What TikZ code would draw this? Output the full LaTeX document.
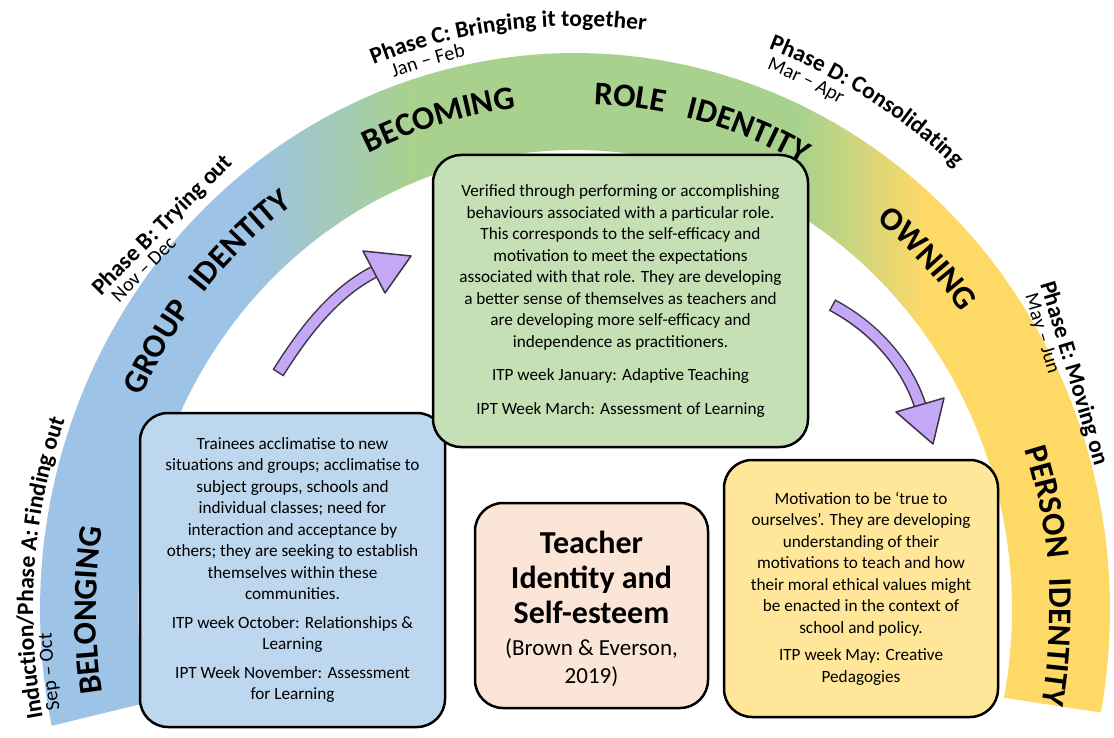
\documentclass[tikz,border=0pt]{standalone}
\usepackage{fontspec}
\setmainfont{Carlito}
\usetikzlibrary{decorations.text}
\definecolor{bandblue}{HTML}{9DC3E6}
\definecolor{bandgreen}{HTML}{A9D18E}
\definecolor{bandyellow}{HTML}{FFD966}
\definecolor{boxblue}{HTML}{BDD7EE}
\definecolor{boxgreen}{HTML}{C5E0B4}
\definecolor{boxyellow}{HTML}{FFE699}
\definecolor{boxpeach}{HTML}{FBE5D6}
\definecolor{arrowpurple}{HTML}{C4A8F6}
\definecolor{arrowedge}{HTML}{3B3346}
\newcommand{\bandfont}{\fontsize{33}{33}\selectfont\bfseries}
\newcommand{\phasefont}{\fontsize{23.5}{23.5}\selectfont\bfseries}
\newcommand{\datefont}{\fontsize{20}{20}\selectfont}
\begin{document}
\begin{tikzpicture}[x=1pt,y=-1pt,
  infobox/.style={draw=black, line width=2.5pt, rounded corners=28pt, align=center, inner sep=0pt},
  bodyfont/.style={font=\fontsize{17.2}{21.5}\selectfont},
  shaftout/.style={draw=arrowedge, line width=13pt},
  shaftin/.style={draw=arrowpurple, line width=10pt, shorten <=1.5pt},
  arrowhead/.style={fill=arrowpurple, draw=arrowedge, line width=1.5pt, line join=round}]
\path[use as bounding box, fill=white] (0,0) rectangle (1114,738);

% ---- band ----
\begin{scope}
\clip plot[variable=\p, domain=0:1, samples=150] ({575+535*cos(192-203*\p)},{610-557*sin(192-203*\p)})
  -- plot[variable=\p, domain=0:1, samples=150] ({575+437*cos(-11+203*\p)},{610-460*sin(-11+203*\p)}) -- cycle;
\fill[bandblue] (0,0) rectangle (257,738);
\shade[left color=bandblue, right color=bandgreen] (255,0) rectangle (412,738);
\fill[bandgreen] (410,0) rectangle (802,738);
\shade[left color=bandgreen, right color=bandyellow] (800,0) rectangle (927,738);
\fill[bandyellow] (925,0) rectangle (1114,738);
\end{scope}

% ---- band labels ----
\path[decorate, decoration={text along path, text align=center, text={|\bandfont|BELONGING}}]
  plot[variable=\p, domain=0:1, samples=60] ({575+479*cos(215-70*\p)},{610-500*sin(215-70*\p)});
\path[decorate, decoration={text along path, text align=center, text={|\bandfont|GROUP{\hspace{20pt}}IDENTITY}}]
  plot[variable=\p, domain=0:1, samples=60] ({575+479*cos(180-80*\p)},{610-502*sin(180-80*\p)});
\path[decorate, decoration={text along path, text align=center, text={|\bandfont|BECOMING}}]
  plot[variable=\p, domain=0:1, samples=60] ({575+480*cos(141-70*\p)},{610-506*sin(141-70*\p)});
\path[decorate, decoration={text along path, text align=center, text={|\bandfont|ROLE{\hspace{22pt}}IDENTITY}}]
  plot[variable=\p, domain=0:1, samples=60] ({575+480*cos(115-80*\p)},{610-506*sin(115-80*\p)});
\path[decorate, decoration={text along path, text align=center, text={|\bandfont|OWNING}}]
  plot[variable=\p, domain=0:1, samples=60] ({575+479*cos(79-70*\p)},{610-502*sin(79-70*\p)});
\path[decorate, decoration={text along path, text align=center, text={|\bandfont|PERSON{\hspace{20pt}}IDENTITY}}]
  plot[variable=\p, domain=0:1, samples=60] ({575+475*cos(48-88*\p)},{610-500*sin(48-88*\p)});

% ---- phase labels ----
\path[decorate, decoration={text along path, text align=left, text={|\phasefont|Induction/Phase A: Finding out}}]
  plot[variable=\p, domain=0:1, samples=60] ({575+542*cos(191-60*\p)},{610-564*sin(191-60*\p)});
\path[decorate, decoration={text along path, text align=left, text={|\datefont|Sep – Oct}}]
  plot[variable=\p, domain=0:1, samples=60] ({575+524*cos(190.5-40*\p)},{610-546*sin(190.5-40*\p)});

\coordinate (pbs) at (101,296);
\coordinate (pbe) at (311,86);
\coordinate (pds) at (119,303);
\coordinate (pde) at (300,122);
\path[decorate, decoration={text along path, text align=left, text={|\phasefont|Phase B: Trying out}}] (pbs) -- (pbe);
\path[decorate, decoration={text along path, text align=left, text={|\datefont|Nov – Dec}}] (pds) -- (pde);

\path[decorate, decoration={text along path, text align=left, text={|\phasefont|Phase C: Bringing it together}}]
  plot[variable=\p, domain=0:1, samples=60] ({575+562*cos(111-60*\p)},{610-584*sin(111-60*\p)});
\path[decorate, decoration={text along path, text align=left, text={|\datefont|Jan – Feb}}]
  plot[variable=\p, domain=0:1, samples=60] ({575+543*cos(109.5-40*\p)},{610-565*sin(109.5-40*\p)});

\path[decorate, decoration={text along path, text align=left, text={|\phasefont|Phase D: Consolidating}}]
  plot[variable=\p, domain=0:1, samples=60] ({575+566*cos(70-50*\p)},{610-597*sin(70-50*\p)});
\path[decorate, decoration={text along path, text align=left, text={|\datefont|Mar – Apr}}]
  plot[variable=\p, domain=0:1, samples=60] ({575+547*cos(69.5-40*\p)},{610-578*sin(69.5-40*\p)});

\coordinate (pes) at (1040,284);
\coordinate (pee) at (1115,534);
\coordinate (pfs) at (1025,296);
\coordinate (pfe) at (1098,539);
\path[decorate, decoration={text along path, text align=left, text={|\phasefont|Phase E: Moving on}}] (pes) -- (pee);
\path[decorate, decoration={text along path, text align=left, text={|\datefont|May – Jun}}] (pfs) -- (pfe);

% ---- boxes ----
\node[infobox, fill=boxblue, minimum width=305pt, minimum height=314pt, bodyfont] (belong) at (292.5,570)
{Trainees acclimatise to new\\
situations and groups; acclimatise to\\
subject groups, schools and\\
individual classes; need for\\
interaction and acceptance by\\
others; they are seeking to establish\\
themselves within these\\
communities.\\[7pt]
ITP week October: Relationships \&\\
Learning\\[7pt]
IPT Week November: Assessment\\
for Learning};

\node[infobox, fill=boxgreen, minimum width=375pt, minimum height=292pt, bodyfont] (role) at (620.5,301)
{Verified through performing or accomplishing\\
behaviours associated with a particular role.\\
This corresponds to the self-efficacy and\\
motivation to meet the expectations\\
associated with that role. They are developing\\
a better sense of themselves as teachers and\\
are developing more self-efficacy and\\
independence as practitioners.\\[12pt]
ITP week January: Adaptive Teaching\\[12pt]
IPT Week March: Assessment of Learning};

\node[infobox, fill=boxpeach, minimum width=233pt, minimum height=205pt] (core) at (591.5,605.5) {};
\node[align=center, inner sep=0pt, font=\fontsize{32}{35}\selectfont\bfseries] (coretitle) at (591.5,577) {Teacher\\ Identity and\\ Self-esteem};
\node[align=center, inner sep=0pt, font=\fontsize{23}{28}\selectfont] (coreref) at (591.5,663) {(Brown \& Everson,\\ 2019)};

\node[infobox, fill=boxyellow, minimum width=274pt, minimum height=257pt, bodyfont] (person) at (861,588.5)
{Motivation to be ‘true to\\
ourselves’. They are developing\\
understanding of their\\
motivations to teach and how\\
their moral ethical values might\\
be enacted in the context of\\
school and policy.\\[6pt]
ITP week May: Creative\\
Pedagogies};

% ---- arrows ----
\coordinate (a1s) at (278,373);
\coordinate (a1e) at (374,272);
\draw[shaftout] (a1s) .. controls (305,330) and (335,292) .. (a1e);
\draw[shaftin] (a1s) .. controls (305,330) and (335,292) .. (a1e);
\path[arrowhead] (363,251) -- (411,256) -- (385,293) -- cycle;

\coordinate (a2s) at (832,305);
\coordinate (a2e) at (920,405);
\draw[shaftout] (a2s) .. controls (870,325) and (905,360) .. (a2e);
\draw[shaftin] (a2s) .. controls (870,325) and (905,360) .. (a2e);
\path[arrowhead] (896,412) -- (933,444) -- (944,398) -- cycle;
\end{tikzpicture}
\end{document}
